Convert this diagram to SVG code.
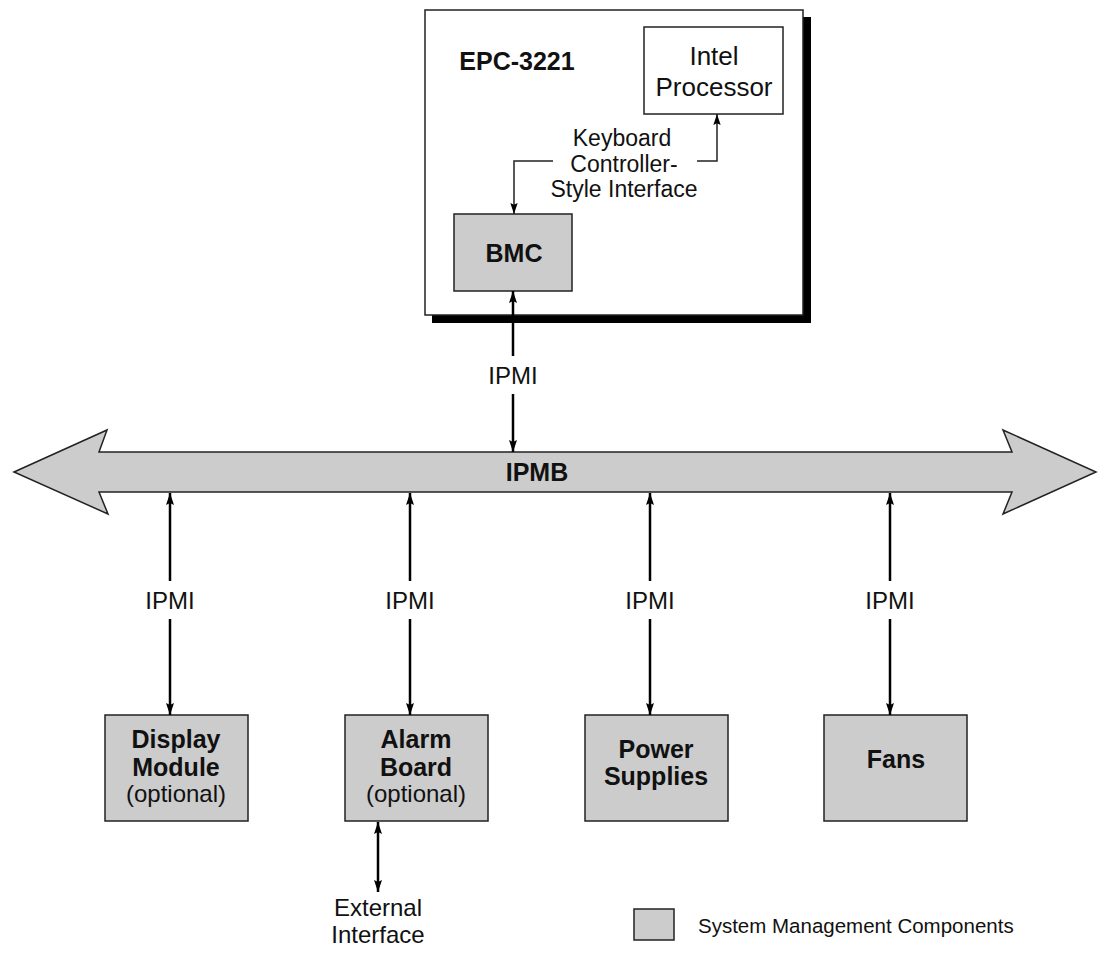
<svg xmlns="http://www.w3.org/2000/svg" width="1098" height="955" viewBox="0 0 1098 955">
<defs>
<style>
text{font-family:"Liberation Sans",Arial,sans-serif;fill:#111;}
.r{font-size:24px;text-anchor:middle;}
.b{font-size:25px;font-weight:bold;text-anchor:middle;}
.comp{fill:#cccccc;stroke:#222;stroke-width:1.5;}
.thick{stroke:#000;stroke-width:2.5;fill:none;}
.thin{stroke:#222;stroke-width:1.5;fill:none;}
</style>
<marker id="ah" viewBox="0 0 12 8" refX="12" refY="4" markerWidth="12" markerHeight="8" markerUnits="userSpaceOnUse" orient="auto-start-reverse">
<path d="M0,0 L12,4 L0,8 L2,4 Z" fill="#000"/>
</marker>
<marker id="ahs" viewBox="0 0 12 8" refX="12" refY="4" markerWidth="11" markerHeight="8" markerUnits="userSpaceOnUse" orient="auto-start-reverse">
<path d="M0,0 L12,4 L0,8 L2,4 Z" fill="#000"/>
</marker>
</defs>
<rect width="1098" height="955" fill="#fff"/>

<g id="epc">
<rect x="432" y="17" width="379" height="306" fill="#000"/>
<rect x="425" y="10" width="378" height="305" fill="#fff" stroke="#222" stroke-width="1.5"/>
<text x="517" y="70" class="b">EPC-3221</text>
</g>

<g id="intel">
<rect x="644" y="27" width="139" height="87" fill="#fff" stroke="#222" stroke-width="1.5"/>
<text x="714" y="65" class="r" style="font-size:26px">Intel</text>
<text x="714" y="96" class="r" style="font-size:26px">Processor</text>
</g>

<g id="bmc">
<rect x="454" y="214" width="118" height="77" class="comp"/>
<text x="514" y="262" class="b">BMC</text>
</g>

<g id="ipmb">
<path d="M14,472 L107,430 L99,452 L1012,452 L1003,430 L1096,472 L1003,514 L1012,492 L99,492 L108,514 Z" fill="#cccccc" stroke="#222" stroke-width="1.5" stroke-linejoin="miter"/>
<text x="537" y="481" class="b">IPMB</text>
</g>

<g id="display">
<rect x="105" y="715" width="143" height="106" class="comp"/>
<text x="176" y="748" class="b">Display</text>
<text x="176" y="776" class="b">Module</text>
<text x="176" y="802" class="r">(optional)</text>
</g>

<g id="alarm">
<rect x="345" y="715" width="143" height="106" class="comp"/>
<text x="416" y="748" class="b">Alarm</text>
<text x="416" y="776" class="b">Board</text>
<text x="416" y="802" class="r">(optional)</text>
</g>

<g id="power">
<rect x="585" y="715" width="143" height="106" class="comp"/>
<text x="656" y="758" class="b">Power</text>
<text x="656" y="785" class="b">Supplies</text>
</g>

<g id="fans">
<rect x="824" y="715" width="143" height="106" class="comp"/>
<text x="896" y="768" class="b">Fans</text>
</g>

<g id="external">
<text x="378" y="916" class="r">External</text>
<text x="378" y="943" class="r">Interface</text>
</g>

<g id="legend">
<rect x="634" y="909" width="40" height="31" class="comp"/>
<text x="698" y="933" style="font-size:20.5px">System Management Components</text>
</g>

<g id="connectors">
<path d="M553,161 L514,161 L514,214" class="thin" marker-end="url(#ahs)"/>
<path d="M697,161 L717,161 L717,114" class="thin" marker-end="url(#ahs)"/>
<text x="622" y="146" class="r" style="font-size:23px">Keyboard</text>
<text x="624" y="172" class="r" style="font-size:23px">Controller-</text>
<text x="624" y="197" class="r" style="font-size:23px">Style Interface</text>

<line x1="513" y1="356" x2="513" y2="291" class="thick" marker-end="url(#ah)"/>
<line x1="513" y1="394" x2="513" y2="452" class="thick" marker-end="url(#ah)"/>
<text x="513" y="384" class="r">IPMI</text>

<line x1="170" y1="581" x2="170" y2="493" class="thick" marker-end="url(#ah)"/>
<line x1="170" y1="619" x2="170" y2="715" class="thick" marker-end="url(#ah)"/>
<text x="170" y="609" class="r">IPMI</text>

<line x1="410" y1="581" x2="410" y2="493" class="thick" marker-end="url(#ah)"/>
<line x1="410" y1="619" x2="410" y2="715" class="thick" marker-end="url(#ah)"/>
<text x="410" y="609" class="r">IPMI</text>

<line x1="650" y1="581" x2="650" y2="493" class="thick" marker-end="url(#ah)"/>
<line x1="650" y1="619" x2="650" y2="715" class="thick" marker-end="url(#ah)"/>
<text x="650" y="609" class="r">IPMI</text>

<line x1="890" y1="581" x2="890" y2="493" class="thick" marker-end="url(#ah)"/>
<line x1="890" y1="619" x2="890" y2="715" class="thick" marker-end="url(#ah)"/>
<text x="890" y="609" class="r">IPMI</text>

<line x1="378" y1="822" x2="378" y2="892" class="thick" marker-start="url(#ah)" marker-end="url(#ah)"/>
</g>
</svg>
